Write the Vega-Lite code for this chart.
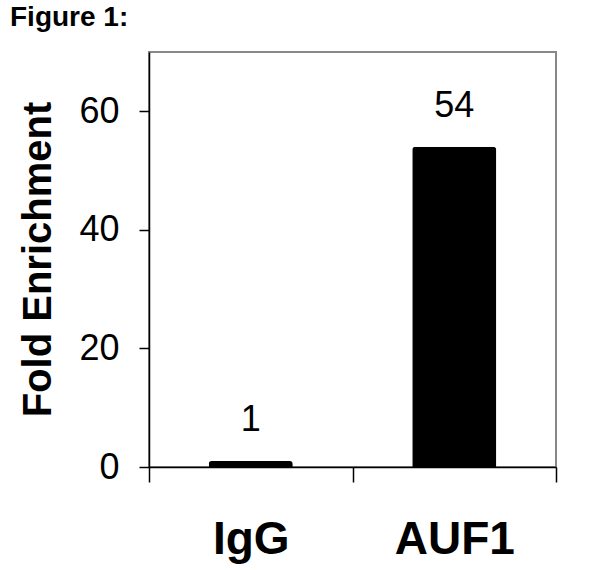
{
  "$schema": "https://vega.github.io/schema/vega-lite/v6.json",
  "autosize": {"type": "none"},
  "padding": {"left": 149, "top": 52, "right": 44, "bottom": 103},
  "width": 407,
  "height": 415,
  "background": "white",
  "title": {
    "text": "Figure 1:",
    "anchor": "start",
    "frame": "group",
    "dx": -139,
    "offset": 20,
    "font": "Liberation Sans",
    "fontSize": 28,
    "fontWeight": "bold",
    "color": "black"
  },
  "config": {
    "view": {"stroke": "#888888", "strokeWidth": 2},
    "font": "Liberation Sans"
  },
  "data": {
    "values": [
      {"group": "IgG", "fold": 1},
      {"group": "AUF1", "fold": 54}
    ]
  },
  "encoding": {
    "x": {
      "field": "group",
      "type": "nominal",
      "sort": ["IgG", "AUF1"],
      "scale": {"paddingInner": 0.587, "paddingOuter": 0.2935},
      "axis": {
        "title": null,
        "labelAngle": 0,
        "labelFont": "Liberation Sans",
        "labelFontSize": 46,
        "labelFontWeight": "bold",
        "labelColor": "black",
        "labelPadding": 35,
        "labelOffset": 59.7,
        "bandPosition": 2.4226,
        "tickExtra": true,
        "tickOffset": -59.7,
        "tickSize": 15,
        "tickColor": "black",
        "tickWidth": 1.5,
        "domainColor": "black",
        "domainWidth": 1.5
      }
    },
    "y": {
      "field": "fold",
      "type": "quantitative",
      "scale": {"domain": [0, 70], "nice": false},
      "axis": {
        "title": "Fold Enrichment",
        "values": [0, 20, 40, 60],
        "grid": false,
        "labelFont": "Liberation Sans",
        "labelFontSize": 36,
        "labelColor": "black",
        "labelPadding": 20,
        "tickSize": 10,
        "tickColor": "black",
        "tickWidth": 1.5,
        "domainColor": "black",
        "domainWidth": 1.5,
        "titleFont": "Liberation Sans",
        "titleFontSize": 40,
        "titleFontWeight": "bold",
        "titleColor": "black",
        "titleAngle": -90,
        "titleAlign": "center",
        "titleBaseline": "alphabetic",
        "titleX": -99,
        "titleY": 207
      }
    }
  },
  "layer": [
    {
      "mark": {"type": "bar", "color": "black", "cornerRadiusTopLeft": 3, "cornerRadiusTopRight": 3}
    },
    {
      "mark": {"type": "text", "baseline": "alphabetic", "dy": -30, "fontSize": 36, "color": "black", "font": "Liberation Sans"},
      "encoding": {"text": {"field": "fold", "type": "quantitative"}}
    }
  ]
}
